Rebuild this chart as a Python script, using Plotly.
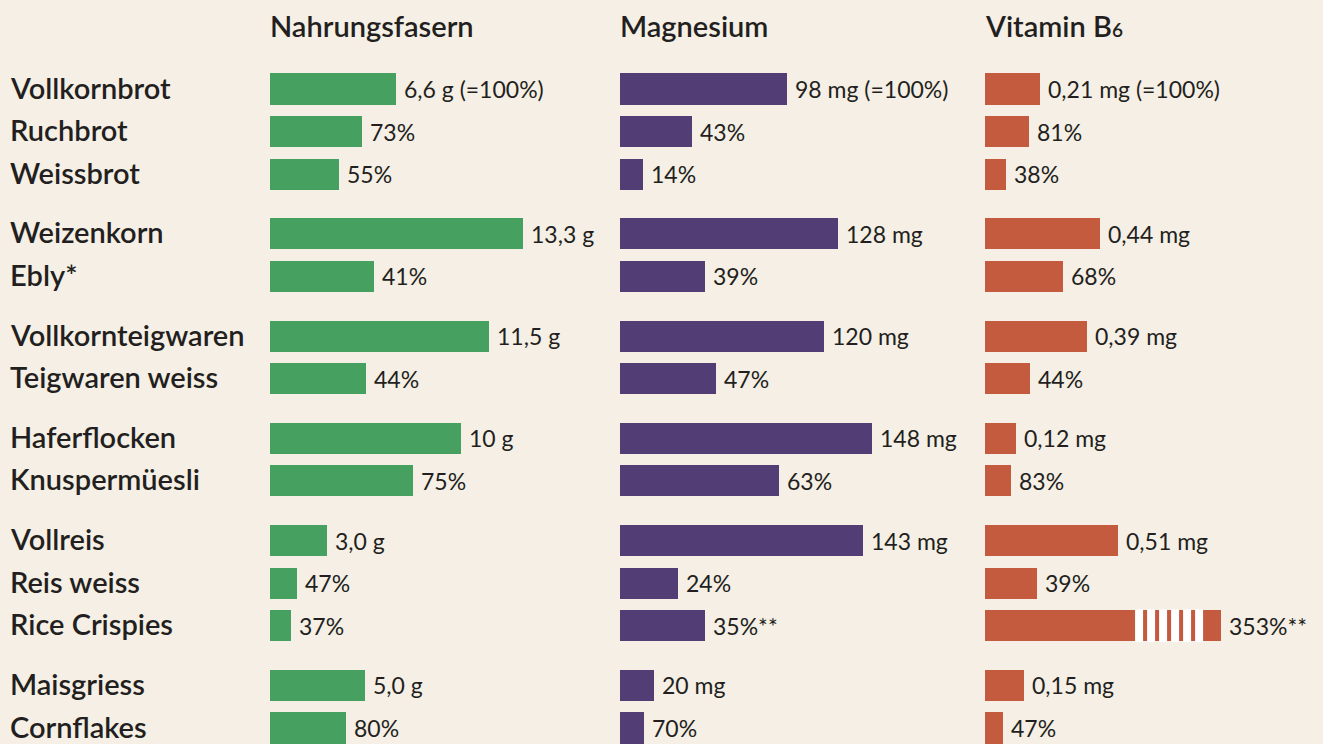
import plotly.graph_objects as go

# ---------------- data ----------------
categories = ["Vollkornbrot", "Ruchbrot", "Weissbrot",
              "Weizenkorn", "Ebly*",
              "Vollkornteigwaren", "Teigwaren weiss",
              "Haferflocken", "Knuspermüesli",
              "Vollreis", "Reis weiss", "Rice Crispies",
              "Maisgriess", "Cornflakes"]
group_sizes = [3, 2, 2, 2, 3, 2]

panel_titles = ["Nahrungsfasern", "Magnesium",
                "Vitamin B<span style='font-size:19px'>6</span>"]

# reference value (=100%) of each group
fiber_ref = [6.6, 13.3, 11.5, 10.0, 3.0, 5.0]        # g
magnesium_ref = [98, 128, 120, 148, 143, 20]          # mg
b6_ref = [0.21, 0.44, 0.39, 0.12, 0.51, 0.15]         # mg

# percent of the group reference
fiber_pct = [100, 73, 55, 100, 41, 100, 44, 100, 75, 100, 47, 37, 100, 80]
magnesium_pct = [100, 43, 14, 100, 39, 100, 47, 100, 63, 100, 24, 35, 100, 70]
b6_pct = [100, 81, 38, 100, 68, 100, 44, 100, 83, 100, 39, 353, 100, 47]

fiber_labels = ["6,6 g (=100%)", "73%", "55%", "13,3 g", "41%", "11,5 g", "44%",
                "10 g", "75%", "3,0 g", "47%", "37%", "5,0 g", "80%"]
magnesium_labels = ["98 mg (=100%)", "43%", "14%", "128 mg", "39%", "120 mg", "47%",
                    "148 mg", "63%", "143 mg", "24%", "35%**", "20 mg", "70%"]
b6_labels = ["0,21 mg (=100%)", "81%", "38%", "0,44 mg", "68%", "0,39 mg", "44%",
             "0,12 mg", "83%", "0,51 mg", "39%", "353%**", "0,15 mg", "47%"]

# broken-axis cap for the Vitamin B6 panel (bars beyond it are drawn cut)
b6_cap = 0.905
b6_break_start = 0.575

# ---------------- styling ----------------
BG = "#f5efe5"
TXT = "#231f20"
COLORS = ["#46a160", "#533d75", "#c45b3f"]
LABEL_FONT = "Lato"
W, H = 1323, 744

# row positions (in row units; groups separated by an extra gap)
positions = []
pos = 0.0
for gi, n in enumerate(group_sizes):
    for k in range(n):
        positions.append(pos)
        pos += 1.0
    pos += 0.4
group_of_row = [gi for gi, n in enumerate(group_sizes) for _ in range(n)]


def absolute(ref, pct):
    return [ref[group_of_row[i]] * p / 100.0 for i, p in enumerate(pct)]


fiber_vals = absolute(fiber_ref, fiber_pct)
mg_vals = absolute(magnesium_ref, magnesium_pct)
b6_vals = absolute(b6_ref, b6_pct)
b6_draw = [min(v, b6_cap) for v in b6_vals]

# pixel layout of panels
row_px = 42.6
first_px = 89.0
y_top = -first_px / row_px
y_bot = (H - first_px) / row_px

panels = [
    dict(vals=fiber_vals, labels=fiber_labels, x0=270, x1=600, scale=19.05),
    dict(vals=mg_vals, labels=magnesium_labels, x0=620, x1=965, scale=1.70),
    dict(vals=b6_draw, labels=b6_labels, x0=985, x1=1323, scale=261.0),
]

fig = go.Figure()
annotations = []
shapes = []
BAR_W = 0.73

for i, p in enumerate(panels):
    ax = "x" if i == 0 else f"x{i+1}"
    fig.add_trace(go.Bar(
        x=p["vals"], y=positions, orientation="h", width=BAR_W,
        marker=dict(color=COLORS[i], line=dict(width=0)),
        xaxis=ax, yaxis="y", hoverinfo="skip", showlegend=False,
    ))
    rng = [0, (p["x1"] - p["x0"]) / p["scale"]]
    key = "xaxis" if i == 0 else f"xaxis{i+1}"
    fig.update_layout(**{key: dict(domain=[p["x0"] / W, p["x1"] / W], range=rng,
                                   visible=False, fixedrange=True, anchor="y")})
    for v, lab, yy in zip(p["vals"], p["labels"], positions):
        annotations.append(dict(
            x=v, y=yy, xref=ax, yref="y", text=lab, showarrow=False,
            xanchor="left", yanchor="middle", xshift=6, yshift=0,
            font=dict(family=LABEL_FONT, size=23, color=TXT),
        ))
    annotations.append(dict(
        x=p["x0"] / W, y=-1.49, xref="paper", yref="y", text=panel_titles[i],
        showarrow=False, xanchor="left", yanchor="middle", xshift=-2,
        font=dict(family=LABEL_FONT, size=29, color=TXT, weight=600),
    ))

# break stripes on cut B6 bars
stripe_w = 8 / 261.0
stripe_period = 12 / 261.0
for v, yy in zip(b6_vals, positions):
    if v > b6_cap:
        for s in range(6):
            xs = b6_break_start + s * stripe_period
            shapes.append(dict(type="rect", xref="x3", yref="y",
                               x0=xs, x1=xs + stripe_w,
                               y0=yy - BAR_W / 2 - 0.02, y1=yy + BAR_W / 2 + 0.02,
                               fillcolor="#ffffff", line=dict(width=0), layer="above"))

for c, yy in zip(categories, positions):
    annotations.append(dict(
        x=8 / W, y=yy, xref="paper", yref="y", text=c, showarrow=False,
        xanchor="left", yanchor="middle", yshift=2,
        font=dict(family=LABEL_FONT, size=29, color=TXT, weight=600),
    ))

fig.update_layout(
    width=W, height=H, autosize=False,
    margin=dict(l=0, r=0, t=0, b=0),
    paper_bgcolor=BG, plot_bgcolor=BG,
    yaxis=dict(range=[y_bot, y_top], visible=False, fixedrange=True, domain=[0, 1]),
    bargap=0, annotations=annotations, shapes=shapes,
)

fig.write_html(
    "out.html",
    config={"displayModeBar": False},
    post_script=("document.body.style.margin='0';"
                 "document.body.style.padding='0';"
                 "document.body.style.overflow='hidden';"
                 "document.body.style.background='" + BG + "';"),
)
